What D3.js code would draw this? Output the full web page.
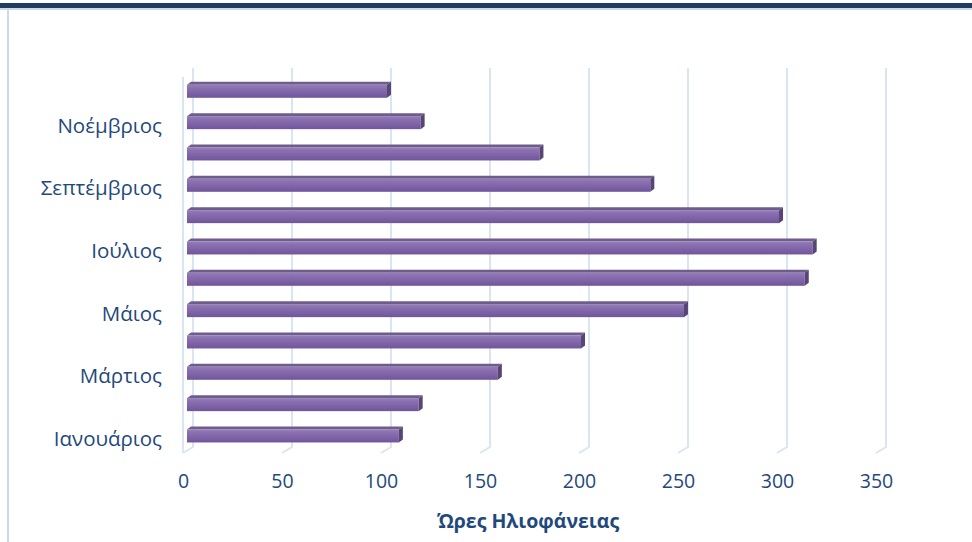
<!DOCTYPE html>
<html>
<head>
<meta charset="utf-8">
<script src="https://cdn.jsdelivr.net/npm/d3@7"></script>
<style>
  html, body { margin: 0; padding: 0; background: #fff; }
  svg { display: block; }
  text { font-family: "Open Sans", sans-serif; fill: #1F497D; }
</style>
</head>
<body>
<svg id="chart" width="972" height="542"></svg>
<script>
// ---- data ----
const months = ["Ιανουάριος","Φεβρουάριος","Μάρτιος","Απρίλιος","Μάιος","Ιούνιος",
                "Ιούλιος","Αύγουστος","Σεπτέμβριος","Οκτώβριος","Νοέμβριος","Δεκέμβριος"];
const sunshineHours = [107, 117, 157, 199, 251, 312, 316, 299, 234, 178, 118, 101];
const monthTickLabels = ["Ιανουάριος","Μάρτιος","Μάιος","Ιούλιος","Σεπτέμβριος","Νοέμβριος"];
const hourTicks = [0, 50, 100, 150, 200, 250, 300, 350];
const axisTitle = "Ώρες Ηλιοφάνειας";

const data = months.map((m, i) => ({ month: m, value: sunshineHours[i] }));

const svg = d3.select("#chart");
const W = 972, H = 542;

// frame decoration
svg.append("rect").attr("x", 0).attr("y", 3).attr("width", W).attr("height", 5).attr("fill", "#213D5E");
svg.append("rect").attr("x", 0).attr("y", 8).attr("width", W).attr("height", 2).attr("fill", "#C9DAEE");
svg.append("rect").attr("x", 7).attr("y", 9).attr("width", 2).attr("height", H - 9).attr("fill", "#C9DAEE");

// 3D depth offsets
const depthX = 10, depthY = -6;
const floorY = 453, topY = 77;

const x = d3.scaleLinear().domain([0, 350]).range([183, 876]);
const y = d3.scaleBand().domain(months).range([floorY, topY]);

const gridColor = "#DAE5F4";
const grid = svg.append("g");
// left wall front edge
grid.append("line")
  .attr("x1", x(0)).attr("x2", x(0)).attr("y1", topY).attr("y2", floorY)
  .attr("stroke", gridColor).attr("stroke-width", 2);
hourTicks.forEach(t => {
  grid.append("path")
    .attr("d", `M${x(t) + depthX},${topY + depthY - 3} L${x(t) + depthX},${floorY + depthY} L${x(t)},${floorY}`)
    .attr("fill", "none").attr("stroke", gridColor).attr("stroke-width", 2);
});

// gradient for bar front
const defs = svg.append("defs");
const grad = defs.append("linearGradient").attr("id", "barFront").attr("x1", 0).attr("y1", 0).attr("x2", 0).attr("y2", 1);
grad.append("stop").attr("offset", "0%").attr("stop-color", "#9580B8");
grad.append("stop").attr("offset", "25%").attr("stop-color", "#8A6FB0");
grad.append("stop").attr("offset", "100%").attr("stop-color", "#71559C");

// bars
const bx = 4, bdx = 4, bdy = -3, bh = 13, boff = 7.8;
const bars = svg.append("g");
data.forEach(d => {
  const x0 = x(0) + bx, x1 = x(d.value) + bx;
  const yt = y(d.month) + boff;
  // top face
  bars.append("path")
    .attr("d", `M${x0},${yt} L${x0 + bdx},${yt + bdy} L${x1 + bdx},${yt + bdy} L${x1},${yt} Z`)
    .attr("fill", "#6E5C8C");
  // front face
  bars.append("rect")
    .attr("x", x0).attr("y", yt).attr("width", x1 - x0).attr("height", bh)
    .attr("fill", "url(#barFront)");
  // side face
  bars.append("path")
    .attr("d", `M${x1},${yt} L${x1 + bdx},${yt + bdy} L${x1 + bdx},${yt + bh - 3} L${x1},${yt + bh} Z`)
    .attr("fill", "#574675");
});

// y axis labels
const yAxis = d3.axisLeft(y).tickValues(monthTickLabels).tickSize(0).tickPadding(0);
const gy = svg.append("g").attr("transform", "translate(162,2)").call(yAxis);
gy.select(".domain").remove();
gy.selectAll("text").attr("font-size", 20.5).attr("fill", "#1F497D").style("font-family", "'Open Sans', sans-serif");

// x axis labels
const xAxis = d3.axisBottom(x).tickValues(hourTicks).tickSize(0).tickPadding(0).tickFormat(d3.format("d"));
const gx = svg.append("g").attr("transform", "translate(0,474)").call(xAxis);
gx.select(".domain").remove();
gx.selectAll("text").attr("font-size", 19.5).attr("fill", "#1F497D").style("font-family", "'Open Sans', sans-serif");

// axis title
svg.append("text")
  .attr("x", 528).attr("y", 528)
  .attr("text-anchor", "middle")
  .attr("font-size", 19.5).attr("font-weight", "bold")
  .attr("fill", "#1F497D")
  .text(axisTitle);
</script>
</body>
</html>
